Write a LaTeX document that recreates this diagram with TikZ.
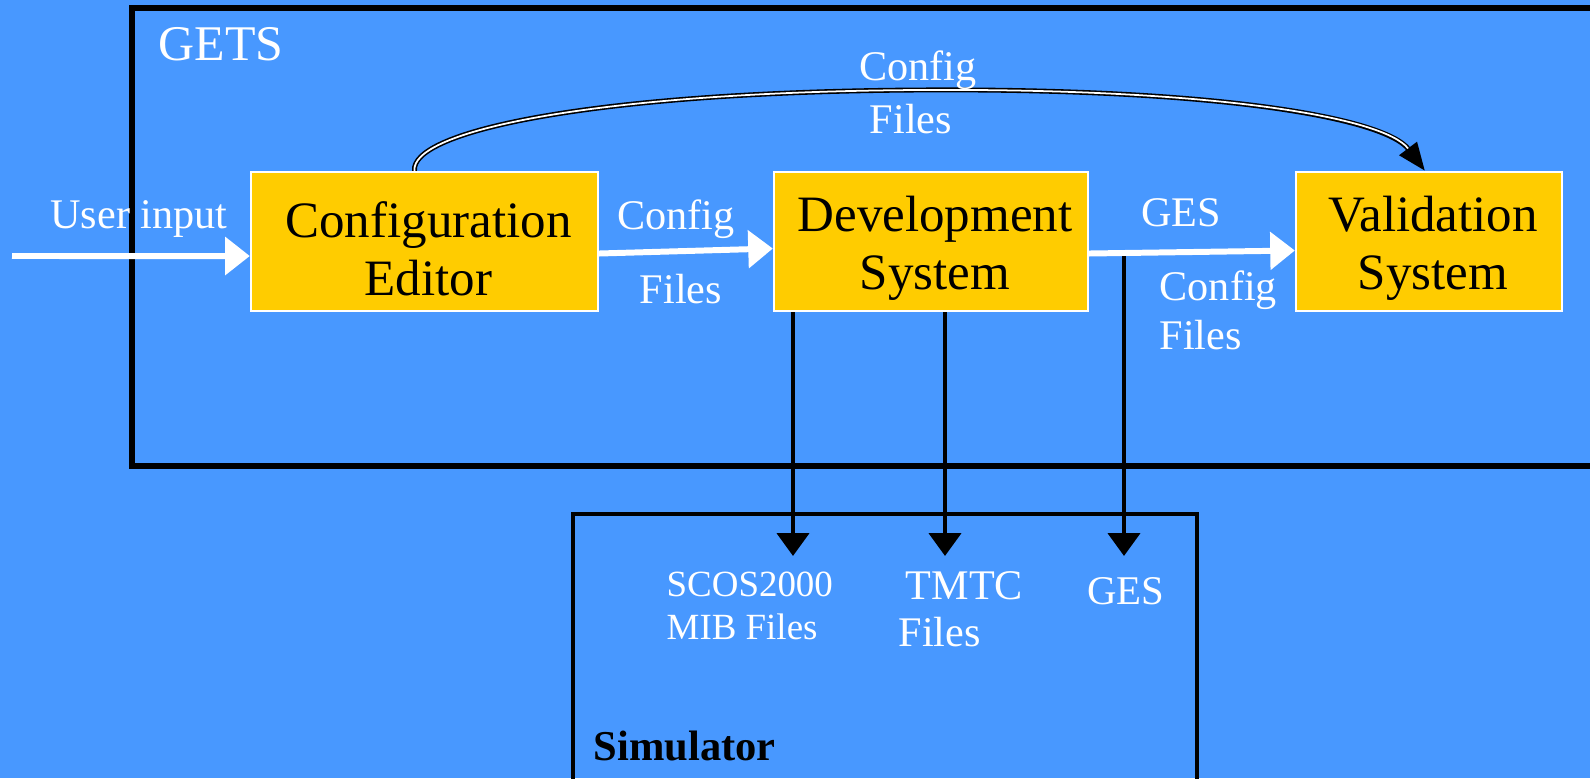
\documentclass[tikz,border=0pt]{standalone}
\usepackage{fontspec}
\setmainfont{Liberation Serif}
\usetikzlibrary{arrows.meta}

\definecolor{slideblue}{RGB}{72,152,255}
\definecolor{boxyellow}{RGB}{255,204,0}

\tikzset{
  block/.style={fill=boxyellow, draw=white, line width=0.6pt, minimum height=1.39cm, inner sep=0pt,
    label={[align=center, inner sep=0pt, xshift=0.04cm, yshift=-0.07cm, font=\fontsize{14.5}{16.5}\selectfont]center:{#1}}},
  lbl/.style={text=white, inner sep=0pt, font=\fontsize{12}{14}\selectfont},
  small/.style={text=white, inner sep=0pt, align=left, font=\fontsize{10.5}{12.2}\selectfont},
  flow/.style={white, line width=1.7pt, -{Triangle[length=7pt,width=10.5pt]}},
  feed/.style={black, line width=1.4pt, -{Triangle[length=6.5pt,width=9pt]}},
}

\begin{document}
\begin{tikzpicture}[x=0.01cm, y=-0.01cm]
    % background and frame of the slide
    \path[use as bounding box, fill=slideblue] (0,0) rectangle (1590,778);
    \clip (0,0) rectangle (1590,778);

    % the two systems
    \draw[black, line width=1.7pt] (132,8) rectangle (1620,466);
    \draw[black, line width=1.2pt] (573,514) rectangle (1197,800);
    \node[lbl, font=\fontsize{14.2}{16}\selectfont, anchor=west] (gets) at (158,44) {GETS};
    \node[inner sep=0pt, anchor=west, font=\fontsize{12.1}{14}\selectfont\bfseries] (sim) at (593,746) {Simulator};

    % blocks
    \node[block={Configuration\\Editor}, minimum width=3.47cm] (ce) at (424.5,241.5) {};
    \node[block={Development\\System}, minimum width=3.14cm] (ds) at (931,241.5) {};
    \node[block={Validation\\System}, minimum width=2.66cm] (vs) at (1429,241.5) {};

    % white flows
    \coordinate (user) at (12,256);
    \draw[flow] (user) -- ([yshift=-0.145cm]ce.west);
    \draw[flow] ([yshift=-0.12cm]ce.east) -- ([yshift=-0.07cm]ds.west);
    \draw[flow] ([yshift=-0.12cm]ds.east) -- ([yshift=-0.09cm]vs.west);
    \node[lbl] (userlbl) at (139,219) {User input};
    \node[lbl] (cfg1) at (676,219) {Config};
    \node[lbl] (files1) at (681,289) {Files};
    \node[lbl] (ges1) at (1181,213) {GES};
    \node[lbl, anchor=west] (cfg2) at (1159,290) {Config};
    \node[lbl, anchor=west] (files2) at (1159,335) {Files};

    % config files straight to validation
    \draw[black, line width=1.4pt, -{Triangle[length=8pt,width=6pt]},
      postaction={draw=white, line width=0.5pt, arrows=-, shorten >=8pt}]
      ([xshift=-0.1cm]ce.north) .. controls (410,130) and (600,92) .. (918,90)
      .. controls (1220,88) and (1385,118) .. ([xshift=-0.04cm]vs.north);
    \node[lbl] (cfg3) at (918,70) {Config};
    \node[lbl] (files3) at (911,119) {Files};

    % outputs into the simulator
    \coordinate (scos) at (793,556);
    \coordinate (tmtc) at (945,556);
    \coordinate (ges) at (1124,556);
    \draw[feed] (ds.south -| scos) -- (scos);
    \draw[feed] (ds.south -| tmtc) -- (tmtc);
    \draw[feed] ([yshift=-0.145cm]ds.east -| ges) -- (ges);
    \node[small, anchor=north west] (scoslbl) at (666,571) {SCOS2000\\MIB Files};
    \node[lbl, anchor=north west, align=left, font=\fontsize{12}{13.2}\selectfont] (tmtclbl) at (898,571) {\hspace{2pt}TMTC\\Files};
    \node[lbl, font=\fontsize{11.6}{13}\selectfont] (ges2) at (1126,591) {GES};
\end{tikzpicture}
\end{document}
